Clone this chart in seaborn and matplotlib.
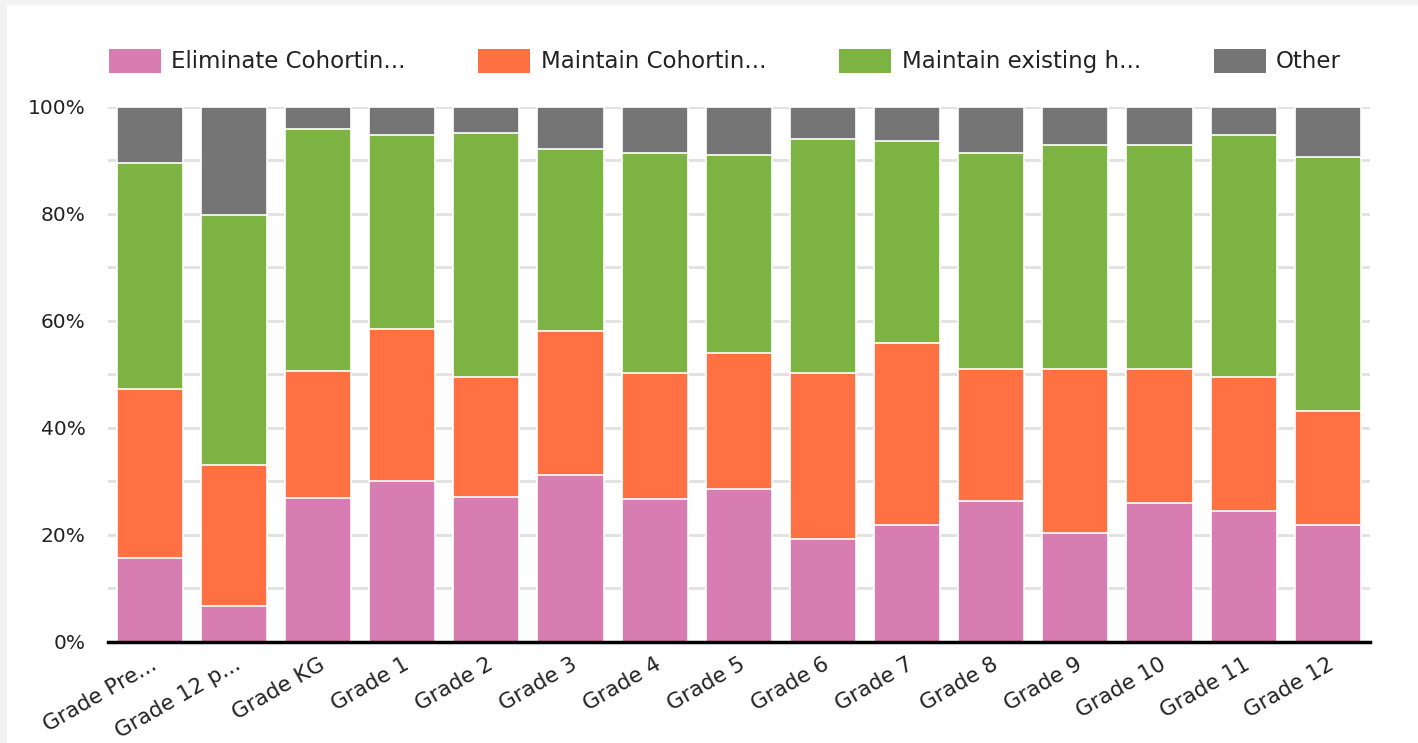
import numpy as np
import pandas as pd
import seaborn as sns
import matplotlib.pyplot as plt
from matplotlib.patches import Rectangle, Patch

# categories and values (share of responses per grade, in %)
grades = ['Grade Pre...', 'Grade 12 p...', 'Grade KG', 'Grade 1', 'Grade 2', 'Grade 3',
          'Grade 4', 'Grade 5', 'Grade 6', 'Grade 7', 'Grade 8', 'Grade 9',
          'Grade 10', 'Grade 11', 'Grade 12']
eliminate = [15.7, 6.7, 26.9, 30.1, 27.1, 31.2, 26.7, 28.6, 19.3, 21.9, 26.4, 20.4, 26.0, 24.5, 21.9]
maintain_cohort = [31.6, 26.4, 23.8, 28.4, 22.4, 26.9, 23.6, 25.4, 31.0, 34.0, 24.6, 30.6, 25.0, 25.0, 21.3]
maintain_existing = [42.2, 46.7, 45.2, 36.3, 45.6, 34.0, 41.1, 37.0, 43.7, 37.7, 40.4, 41.9, 41.9, 45.3, 47.5]
other = [10.5, 20.2, 4.1, 5.2, 4.9, 7.9, 8.6, 9.0, 6.0, 6.4, 8.6, 7.1, 7.1, 5.2, 9.3]

series_names = ['Eliminate Cohortin...', 'Maintain Cohortin...', 'Maintain existing h...', 'Other']
colors = ['#d87db1', '#ff7043', '#7cb342', '#757575']

plt.rcParams['font.family'] = ['DejaVu Sans']

df = pd.DataFrame({'grade': grades, 'e': eliminate, 'm': maintain_cohort,
                   'x': maintain_existing, 'o': other})
cum = df[['e', 'm', 'x', 'o']].cumsum(axis=1)
cum['grade'] = df['grade']

fig = plt.figure(figsize=(14.18, 7.43), dpi=100)
fig.patch.set_facecolor('#f2f2f2')
fig.patches.append(Rectangle((7 / 1418, 0), 1, 1 - 5 / 743, transform=fig.transFigure,
                             facecolor='white', edgecolor='none', zorder=-10))

ax = fig.add_axes([0.076, 0.136, 0.89, 0.72])
ax.set_facecolor('none')

# draw from the top layer down so each lower segment covers the one above
for col, color in zip(['o', 'x', 'm', 'e'], colors[::-1]):
    sns.barplot(data=cum, x='grade', y=col, color=color, ax=ax, width=0.786,
                edgecolor='white', linewidth=1.2, saturation=1, zorder=3)

ax.set_xlim(-0.5, len(grades) - 0.5)
ax.set_ylim(0, 100)
ax.set_yticks(np.arange(0, 101, 20))
ax.set_yticklabels([f'{v}%' for v in range(0, 101, 20)])
ax.set_yticks(np.arange(0, 101, 10), minor=True)
ax.yaxis.grid(True, which='both', color='#e0e0e0', linewidth=2, zorder=0)
ax.set_axisbelow(True)
ax.tick_params(axis='y', which='both', length=0, labelsize=14.5, pad=16, labelcolor='#222222')
ax.tick_params(axis='x', length=0, labelsize=15.5, pad=9, labelcolor='#222222')
plt.setp(ax.get_xticklabels(), rotation=30, ha='right', rotation_mode='anchor')
ax.set_xlabel('')
ax.set_ylabel('')
for s in ['top', 'right', 'left']:
    ax.spines[s].set_visible(False)
ax.spines['bottom'].set_color('black')
ax.spines['bottom'].set_linewidth(2.5)
ax.spines['bottom'].set_zorder(5)

handles = [Patch(facecolor=c, edgecolor='none') for c in colors]
fig.legend(handles, series_names, loc='upper left', bbox_to_anchor=(0.062, 0.962),
           ncol=4, frameon=False, fontsize=16.5, handlelength=2.27, handleheight=1.22,
           handletextpad=0.44, columnspacing=3.2, labelcolor='#222222')

fig.savefig('out.png', dpi=100, facecolor=fig.get_facecolor())
